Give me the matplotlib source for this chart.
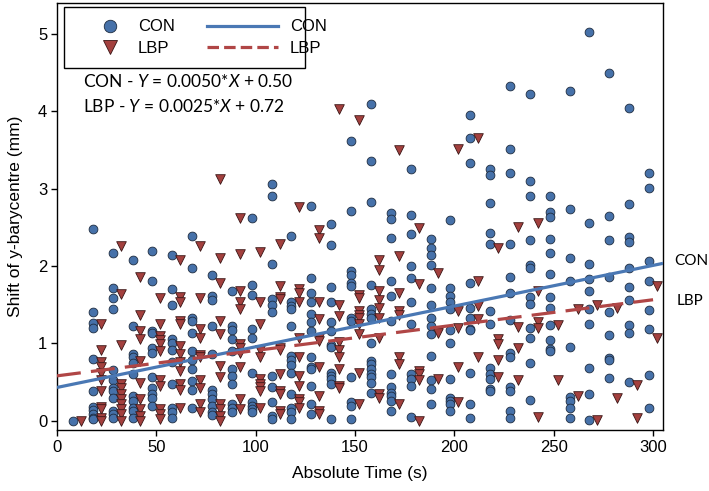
import matplotlib
matplotlib.use("Agg")
import matplotlib.pyplot as plt
from matplotlib.lines import Line2D
from matplotlib.patches import Rectangle
import numpy as np

# ---------------- data ----------------
times = [10, 20, 30, 40, 50, 60, 70, 80, 90, 100, 110, 120, 130, 140, 150,
         160, 170, 180, 190, 200, 210, 220, 230, 240, 250, 260, 270, 280, 290, 300]

con_values = [
    [0.0],
    [2.48, 1.40, 1.26, 1.20, 0.80, 0.39, 0.18, 0.14, 0.09, 0.04, 0.02],
    [2.17, 1.71, 1.59, 1.45, 0.66, 0.52, 0.42, 0.39, 0.30, 0.13, 0.09, 0.04],
    [2.08, 1.22, 0.86, 0.82, 0.75, 0.61, 0.32, 0.25, 0.17, 0.13, 0.04],
    [2.20, 1.80, 1.16, 1.14, 0.94, 0.88, 0.56, 0.42, 0.35, 0.29, 0.19],
    [2.14, 1.70, 1.49, 1.05, 1.01, 0.92, 0.76, 0.48, 0.17, 0.11, 0.04],
    [2.39, 1.98, 1.33, 1.29, 1.14, 0.90, 0.78, 0.67, 0.51, 0.40, 0.16],
    [1.89, 1.61, 1.56, 1.22, 0.86, 0.40, 0.35, 0.28, 0.19, 0.11, 0.07],
    [1.68, 1.22, 1.17, 1.05, 0.90, 0.67, 0.58, 0.47, 0.22, 0.17, 0.11],
    [2.62, 1.76, 1.62, 1.19, 1.07, 0.62, 0.24, 0.19, 0.15, 0.11],
    [3.06, 2.91, 2.02, 1.57, 1.50, 1.40, 0.58, 0.43, 0.24, 0.06, 0.02],
    [2.39, 1.54, 1.48, 1.44, 1.22, 0.84, 0.79, 0.72, 0.62, 0.35, 0.17, 0.11, 0.02],
    [2.78, 1.85, 1.65, 1.54, 1.38, 1.28, 1.16, 0.82, 0.69, 0.67, 0.45, 0.22, 0.09],
    [2.54, 2.27, 1.73, 1.54, 1.28, 1.16, 0.98, 0.95, 0.62, 0.58, 0.54, 0.47, 0.02],
    [3.61, 2.71, 1.93, 1.89, 1.78, 1.74, 1.33, 1.29, 0.56, 0.24, 0.19, 0.02],
    [4.09, 3.36, 2.83, 1.76, 1.44, 1.38, 1.33, 1.00, 0.77, 0.73, 0.67, 0.60, 0.56, 0.49, 0.36],
    [2.68, 2.61, 2.36, 1.80, 1.61, 1.29, 0.60, 0.43, 0.36, 0.32, 0.26, 0.12],
    [3.26, 2.66, 2.41, 2.00, 1.85, 1.54, 1.25, 0.60, 0.54, 0.45, 0.05],
    [2.35, 2.23, 2.14, 2.01, 1.72, 1.50, 1.33, 1.22, 1.12, 0.84, 0.52, 0.41, 0.22],
    [2.59, 1.72, 1.61, 1.54, 1.44, 1.17, 1.01, 0.54, 0.30, 0.25, 0.22, 0.13],
    [3.95, 3.65, 3.33, 1.78, 1.46, 1.33, 1.19, 1.17, 0.62, 0.22, 0.04],
    [3.26, 3.18, 2.81, 2.43, 2.28, 1.42, 1.25, 0.68, 0.60, 0.54, 0.41, 0.39],
    [4.33, 3.51, 3.20, 2.28, 1.86, 1.65, 1.30, 0.87, 0.82, 0.43, 0.39, 0.12, 0.04],
    [4.22, 3.10, 2.90, 2.33, 2.01, 1.97, 1.60, 1.51, 1.20, 1.07, 0.74, 0.27],
    [2.90, 2.70, 2.64, 2.35, 2.17, 1.90, 1.60, 1.46, 1.24, 1.04, 0.93, 0.90],
    [4.26, 2.74, 2.10, 1.81, 0.95, 0.31, 0.26, 0.17, 0.04],
    [5.02, 2.56, 2.02, 1.83, 1.68, 1.45, 1.25, 0.68, 0.34, 0.01],
    [4.49, 2.65, 2.34, 1.86, 1.40, 1.11, 0.81, 0.78, 0.55],
    [4.04, 2.80, 2.38, 2.31, 1.98, 1.73, 1.56, 1.24, 1.13, 0.50],
    [3.20, 3.01, 2.07, 1.80, 1.43, 1.19, 0.59, 0.17],
]

lbp_values = [
    [0.0],
    [1.25, 0.91, 0.76, 0.70, 0.62, 0.52, 0.38, 0.18, 0.15, 0.04, 0.0],
    [2.26, 1.64, 0.98, 0.47, 0.42, 0.34, 0.28, 0.22, 0.15, 0.09, 0.0],
    [1.86, 1.37, 1.16, 1.05, 0.77, 0.49, 0.28, 0.15, 0.06, 0.0],
    [1.58, 1.25, 1.10, 1.04, 0.99, 0.90, 0.52, 0.45, 0.15, 0.09, 0.02],
    [2.08, 1.60, 1.54, 1.29, 1.25, 0.97, 0.86, 0.76, 0.64, 0.47, 0.40, 0.17],
    [2.26, 1.59, 1.18, 1.07, 0.85, 0.82, 0.52, 0.42, 0.22, 0.11],
    [3.13, 2.10, 1.78, 1.29, 1.12, 0.71, 0.56, 0.22, 0.15, 0.06, 0.0],
    [2.62, 2.16, 1.68, 1.54, 1.44, 0.99, 0.94, 0.88, 0.70, 0.28, 0.15],
    [2.18, 1.54, 1.25, 0.92, 0.82, 0.54, 0.47, 0.43, 0.39, 0.17],
    [2.28, 1.74, 1.60, 1.57, 0.94, 0.92, 0.60, 0.39, 0.34, 0.13, 0.09],
    [2.76, 1.70, 1.65, 1.54, 1.07, 0.82, 0.58, 0.45, 0.28, 0.24, 0.17],
    [2.46, 2.36, 1.54, 1.31, 1.07, 1.03, 0.69, 0.32, 0.13, 0.09],
    [4.03, 1.50, 1.35, 1.02, 0.92, 0.82, 0.67, 0.45, 0.42],
    [3.89, 1.63, 1.59, 1.42, 1.37, 1.33, 1.25, 1.12, 0.62, 0.22],
    [2.08, 1.95, 1.68, 1.56, 1.46, 1.33, 1.07, 0.34, 0.30],
    [3.50, 2.13, 1.65, 1.42, 1.37, 0.82, 0.73, 0.22],
    [2.49, 1.77, 0.64, 0.60, 0.52, 0.0],
    [1.91, 1.16, 1.14, 0.54],
    [3.51, 1.42, 1.20, 0.69, 0.24],
    [3.66, 1.81, 1.48, 1.31, 0.82],
    [2.23, 1.06, 0.99, 0.79, 0.56],
    [2.51, 1.21, 0.94, 0.52],
    [2.56, 1.68, 1.27, 1.20, 0.05],
    [1.24, 0.52],
    [1.45, 0.32],
    [1.50, 0.01],
    [1.46, 0.29],
    [0.46, 0.04],
    [1.74, 1.07],
]

# fitted lines as drawn (intercept, slope) and their x-extent
con_line = (0.43, 0.00526, 0, 305)
lbp_line = (0.58, 0.00328, 0, 300)

con_eq = "CON - $\\mathit{Y}$ = 0.0050*$\\mathit{X}$ + 0.50"
lbp_eq = "LBP - $\\mathit{Y}$ = 0.0025*$\\mathit{X}$ + 0.72"

x_ticks = [0, 50, 100, 150, 200, 250, 300]
y_ticks = [0, 1, 2, 3, 4, 5]

# ---------------- style ----------------
plt.rcParams['font.family'] = ['Liberation Sans', 'DejaVu Sans']
plt.rcParams['mathtext.fontset'] = 'custom'
plt.rcParams['mathtext.rm'] = 'Lato'
plt.rcParams['mathtext.it'] = 'Lato:italic'

BLUE = '#4671a9'
RED = '#a3403e'
BLUE_LINE = '#4a78b4'
RED_LINE = '#b04646'
DODGE = 2.0

W, H = 709, 491
fig = plt.figure(figsize=(W / 100, H / 100), dpi=100)

def fx(px):
    return px / W

def fy(py):
    return 1 - py / H

ax = fig.add_axes([fx(57), fy(430), fx(663) - fx(57), fy(3) - fy(430)])

con_x = np.concatenate([[t - DODGE] * len(v) for t, v in zip(times, con_values)])
con_y = np.concatenate(con_values)
lbp_x = np.concatenate([[t + DODGE] * len(v) for t, v in zip(times, lbp_values)])
lbp_y = np.concatenate(lbp_values)

ax.scatter(con_x, con_y, s=40, marker='o', facecolor=BLUE, edgecolor='#1e2c40',
           linewidth=0.6, zorder=2)
ax.scatter(lbp_x, lbp_y, s=48, marker='v', facecolor=RED, edgecolor='#3a1515',
           linewidth=0.6, zorder=2)

b0, b1, xa, xb = con_line
xs = np.array([xa, xb])
ax.plot(xs, b0 + b1 * xs, color=BLUE_LINE, lw=2.3, zorder=3, solid_capstyle='butt')
b0, b1, xa, xb = lbp_line
xs = np.array([xa, xb])
ax.plot(xs, b0 + b1 * xs, color=RED_LINE, lw=2.3, zorder=3, dashes=(7.5, 3.2),
        dash_capstyle='butt')

ax.set_xlim(0, 305)
ax.set_ylim(-0.12, 5.40)
ax.set_xticks(x_ticks)
ax.set_yticks(y_ticks)
ax.tick_params(direction='out', length=4, width=1, labelsize=12, colors='black', pad=3)
for sp in ax.spines.values():
    sp.set_linewidth(1.0)
    sp.set_color('black')

ax.set_xlabel('Absolute Time (s)', fontsize=12.5, labelpad=8)
ax.set_ylabel('Shift of y-barycentre (mm)', fontsize=12.5, labelpad=11)

# equations
ax.text(0.043, 0.816, con_eq, transform=ax.transAxes, fontsize=12.5,
        family='Lato', va='center', ha='left')
ax.text(0.043, 0.758, lbp_eq, transform=ax.transAxes, fontsize=12.5,
        family='Lato', va='center', ha='left')

# right-hand line labels
ax.annotate('CON', xy=(674 / W, 2.06), xycoords=('figure fraction', 'data'),
            fontsize=11, family='Lato', va='center', ha='left', annotation_clip=False)
ax.annotate('LBP', xy=(677 / W, 1.55), xycoords=('figure fraction', 'data'),
            fontsize=11, family='Lato', va='center', ha='left', annotation_clip=False)

# legend frame
frame = Rectangle((fx(64), fy(68)), fx(305) - fx(64), fy(7) - fy(68),
                  transform=fig.transFigure, facecolor='white', edgecolor='black',
                  lw=1.0, zorder=4)
fig.add_artist(frame)

h_con = Line2D([], [], marker='o', ls='none', markersize=9, markerfacecolor=BLUE,
               markeredgecolor='#1e2c40', markeredgewidth=0.6)
h_lbp = Line2D([], [], marker='v', ls='none', markersize=9.5, markerfacecolor=RED,
               markeredgecolor='#3a1515', markeredgewidth=0.6)
leg1 = fig.legend([h_con, h_lbp], ['CON', 'LBP'], loc='center left',
                  bbox_to_anchor=(fx(97), fy(37.5)), frameon=False, borderpad=0,
                  handlelength=1.6, handletextpad=0.85, labelspacing=0.38,
                  fontsize=12, borderaxespad=0)
leg1.set_zorder(5)

l_con = Line2D([], [], color=BLUE_LINE, lw=2.3)
l_lbp = Line2D([], [], color=RED_LINE, lw=2.3, dashes=(3.6, 1.6))
leg2 = fig.legend([l_con, l_lbp], ['CON', 'LBP'], loc='center left',
                  bbox_to_anchor=(fx(206.5), fy(37.5)), frameon=False, borderpad=0,
                  handlelength=4.3, handletextpad=0.7, labelspacing=0.38,
                  fontsize=12, borderaxespad=0)
leg2.set_zorder(5)

fig.savefig('out.png', dpi=100)
